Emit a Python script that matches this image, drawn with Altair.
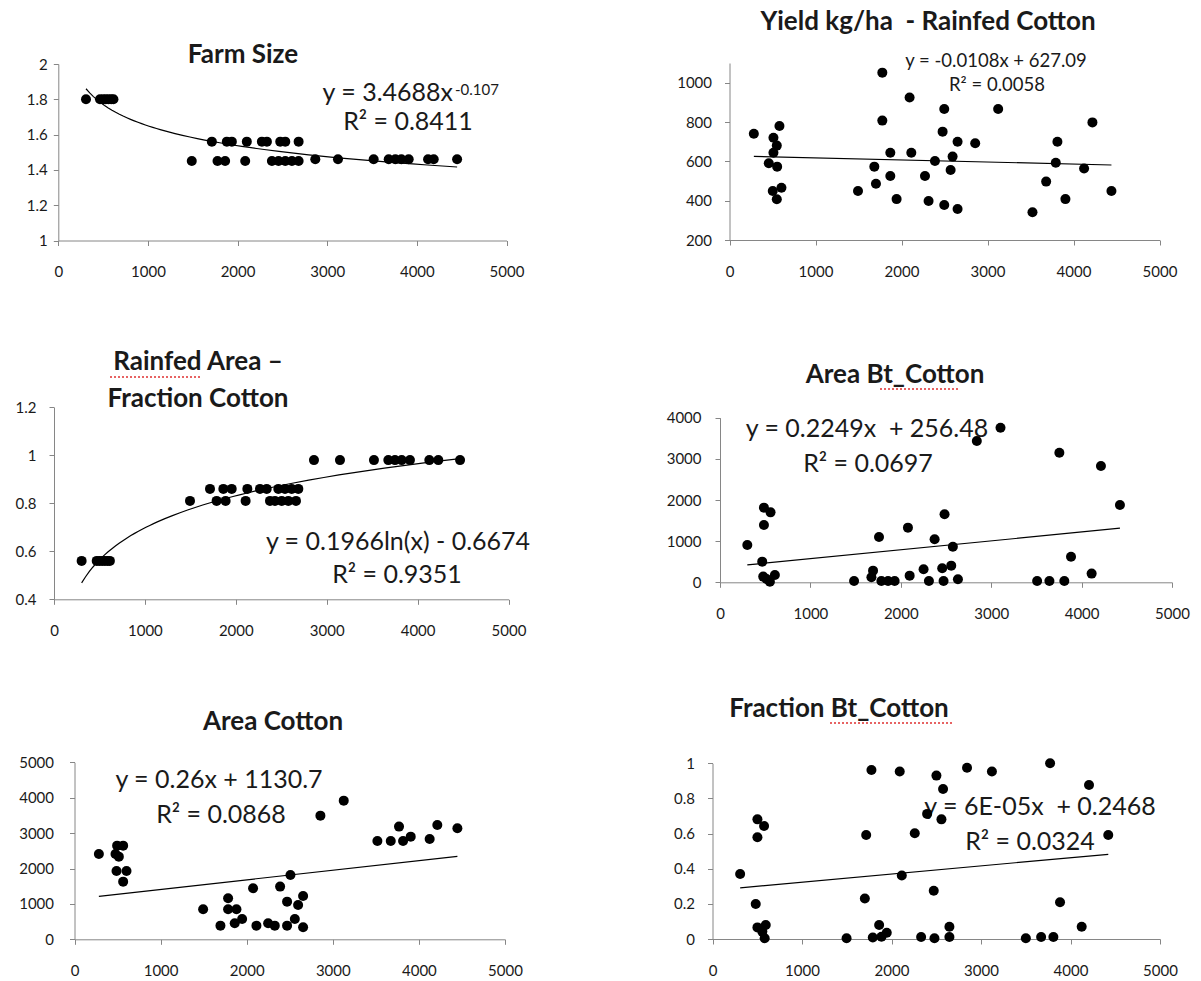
import altair as alt
import pandas as pd

W, H = 1201, 981
FONT = "Lato"
INK = "#1a1a1a"
AXIS_GREY = "#868686"
X_TICKS = [0, 1000, 2000, 3000, 4000, 5000]

# ---------------- data ----------------
# Farm Size
farm_x = [309, 465, 500, 530, 560, 590, 615,
          1713, 1880, 1936, 2103, 2271, 2327, 2476, 2532, 2681,
          1489, 1776, 1861, 2085, 2383, 2457, 2532, 2606, 2681,
          2867, 3120, 3518, 3686, 3760, 3827, 3909, 4125, 4188, 4449]
farm_y = [1.80, 1.80, 1.80, 1.80, 1.80, 1.80, 1.80,
          1.56, 1.56, 1.56, 1.56, 1.56, 1.56, 1.56, 1.56, 1.56,
          1.45, 1.45, 1.45, 1.45, 1.45, 1.45, 1.45, 1.45, 1.45,
          1.46, 1.46, 1.46, 1.46, 1.46, 1.46, 1.46, 1.46, 1.46, 1.46]

# Yield kg/ha - Rainfed Cotton
yield_x = [283, 457, 503, 511, 511, 550, 550, 554, 581, 604, 1494, 1684, 1703, 1777,
           1777, 1870, 1870, 1943, 2094, 2114, 2273, 2315, 2389, 2478, 2497, 2497,
           2571, 2594, 2652, 2652, 2857, 3124, 3523, 3682, 3794, 3813, 3906, 4123,
           4220, 4441]
yield_y = [740, 590, 449, 720, 644, 680, 407, 573, 780, 466, 449, 573, 486, 1051,
           807, 644, 525, 408, 925, 644, 525, 398, 602, 751, 866, 378,
           556, 624, 700, 358, 692, 866, 341, 497, 593, 700, 408, 564,
           798, 449]

# Rainfed Area - Fraction Cotton
rain_x = [304, 470, 500, 530, 560, 590, 615,
          1716, 1863, 1955, 2127, 2266, 2340, 2468, 2541, 2615, 2688,
          1496, 1789, 1888, 2108, 2376, 2431, 2505, 2578, 2662,
          2860, 3146, 3520, 3678, 3751, 3825, 3916, 4129, 4228, 4467]
rain_y = [0.56, 0.56, 0.56, 0.56, 0.56, 0.56, 0.56,
          0.86, 0.86, 0.86, 0.86, 0.86, 0.86, 0.86, 0.86, 0.86, 0.86,
          0.81, 0.81, 0.81, 0.81, 0.81, 0.81, 0.81, 0.81, 0.81,
          0.98, 0.98, 0.98, 0.98, 0.98, 0.98, 0.98, 0.98, 0.98, 0.98]

# Area Bt_Cotton
btarea_x = [302, 467, 486, 486, 559, 478, 515, 552, 607, 1483, 1693, 1675, 1759,
            1785, 1859, 1932, 2079, 2098, 2252, 2311, 2374, 2458, 2473, 2484,
            2558, 2576, 2632, 2841, 3103, 3508, 3644, 3754, 3809, 3883, 4111,
            4214, 4424]
btarea_y = [907, 502, 1393, 1814, 1700, 138, 81, 16, 178, 30, 283, 121, 1101,
            30, 30, 30, 1328, 162, 316, 30, 1045, 340, 30, 1652,
            405, 866, 73, 3433, 3757, 30, 30, 3150, 30, 623, 211,
            2826, 1879]

# Area Cotton
area_x = [283, 476, 495, 565, 515, 488, 604, 565, 1494, 1695, 1784, 1784, 1881,
          1861, 1947, 2074, 2113, 2249, 2326, 2388, 2469, 2469, 2508, 2559, 2597,
          2655, 2655, 2856, 3127, 3518, 3673, 3769, 3816, 3905, 4125, 4214, 4447]
area_y = [2411, 2411, 2646, 2646, 2335, 1930, 1930, 1629, 847, 386, 1158, 847, 847,
          452, 574, 1441, 386, 452, 386, 1488, 386, 1064, 1817, 574, 970,
          1224, 339, 3493, 3917, 2778, 2778, 3183, 2778, 2900, 2834, 3230, 3136]

# Fraction Bt_Cotton
frac_x = [309, 483, 502, 502, 576, 502, 595, 557, 583, 1498, 1717, 1702, 1776,
          1791, 1862, 1888, 1947, 2092, 2115, 2260, 2331, 2398, 2472, 2502, 2480,
          2576, 2558, 2647, 2647, 2844, 3122, 3501, 3672, 3772, 3809, 3883, 4125,
          4207, 4422]
frac_y = [0.370, 0.199, 0.681, 0.579, 0.643, 0.066, 0.080, 0.042, 0.004, 0.004,
          0.592, 0.231, 0.962, 0.009, 0.080, 0.013, 0.036, 0.953, 0.361, 0.602,
          0.011, 0.712, 0.275, 0.930, 0.004, 0.854, 0.681, 0.070, 0.011, 0.975,
          0.953, 0.004, 0.011, 1.000, 0.011, 0.209, 0.070, 0.877, 0.592]


def panel(xs, ys, xr, yr, ydom, yticks, yfmt, method, ypad):
    df = pd.DataFrame({"x": xs, "y": ys})
    xenc = alt.X(
        "x:Q",
        title="",
        scale=alt.Scale(domain=[0, 5000], range=xr, nice=False, zero=False),
        axis=alt.Axis(orient="bottom", offset=yr[0] - H, values=X_TICKS, format="d",
                      grid=False, domainColor=AXIS_GREY, tickColor=AXIS_GREY,
                      tickSize=5, labelFont=FONT, labelFontSize=15, labelColor=INK,
                      labelPadding=19, labelFlush=False, labelOverlap=False),
    )
    yenc = alt.Y(
        "y:Q",
        title="",
        scale=alt.Scale(domain=ydom, range=yr, nice=False, zero=False),
        axis=alt.Axis(orient="left", offset=-xr[0], values=yticks, format=yfmt,
                      grid=False, domainColor=AXIS_GREY, tickColor=AXIS_GREY,
                      tickSize=5, labelFont=FONT, labelFontSize=15, labelColor=INK,
                      labelPadding=ypad, labelFlush=False, labelOverlap=False),
    )
    base = alt.Chart(df)
    pts = base.mark_circle(size=100, color="black", opacity=1).encode(x=xenc, y=yenc)
    line = (base.transform_regression("x", "y", method=method)
            .mark_line(color="black", strokeWidth=1.2).encode(x=xenc, y=yenc))
    return alt.layer(pts, line)


def label(text, x, y, size, bold=False, align="center", baseline="middle"):
    return alt.Chart(pd.DataFrame({"t": [text]})).mark_text(
        font=FONT, fontSize=size, fontWeight="bold" if bold else "normal",
        color=INK, align=align, baseline=baseline,
    ).encode(text="t:N", x=alt.value(x), y=alt.value(y))


def squiggle(x1, x2, y):
    return alt.Chart(pd.DataFrame({"a": [0]})).mark_rule(
        color="#e03030", strokeWidth=1.5, strokeDash=[2, 2]
    ).encode(x=alt.value(x1), x2=alt.value(x2), y=alt.value(y))


TS = 26   # title size
ES = 25   # equation size
NB = "\u00a0"

texts = [
    label("Farm Size", 243, 55, TS, bold=True),
    label("y = 3.4688x", 453, 101, ES, align="right", baseline="alphabetic"),
    label("-0.107", 455, 95, 15, align="left", baseline="alphabetic"),
    label("R\u00b2 = 0.8411", 408, 122, ES),

    label("Yield kg/ha " + NB + "- Rainfed Cotton", 928, 22, TS, bold=True),
    label("y = -0.0108x + 627.09", 996, 61, 18.5),
    label("R\u00b2 = 0.0058", 997, 85, 18.5),

    label("Rainfed Area \u2013", 198, 362, TS, bold=True),
    label("Fraction Cotton", 198, 399, TS, bold=True),
    squiggle(110, 200, 377),
    label("y = 0.1966ln(x) - 0.6674", 398, 542, ES),
    label("R\u00b2 = 0.9351", 397, 575, ES),

    label("Area Bt_Cotton", 895, 375, TS, bold=True),
    squiggle(880, 958, 389),
    label("y = 0.2249x " + NB + "+ 256.48", 867, 429, ES),
    label("R\u00b2 = 0.0697", 868, 464, ES),

    label("Area Cotton", 273, 722, TS, bold=True),
    label("y = 0.26x + 1130.7", 219, 780, ES),
    label("R\u00b2 = 0.0868", 221, 815, ES),

    label("Fraction Bt_Cotton", 839, 709, TS, bold=True),
    squiggle(830, 953, 723),
    label("y = 6E-05x " + NB + "+ 0.2468", 1040, 807, ES),
    label("R\u00b2 = 0.0324", 1030, 842, ES),
]

panels = [
    panel(farm_x, farm_y, [58.3, 506.5], [240.5, 64], [1, 2],
          [1, 1.2, 1.4, 1.6, 1.8, 2], "~g", "pow", 6),
    panel(yield_x, yield_y, [729.5, 1159.5], [240, 63], [200, 1100],
          [200, 400, 600, 800, 1000], "d", "linear", 13),
    panel(rain_x, rain_y, [54, 508.5], [599.3, 407.3], [0.4, 1.2],
          [0.4, 0.6, 0.8, 1, 1.2], "~g", "log", 13),
    panel(btarea_x, btarea_y, [720, 1172], [582.3, 417.7], [0, 4000],
          [0, 1000, 2000, 3000, 4000], "d", "linear", 14),
    panel(area_x, area_y, [74.5, 505], [939.3, 762.3], [0, 5000],
          [0, 1000, 2000, 3000, 4000, 5000], "d", "linear", 16),
    panel(frac_x, frac_y, [712.5, 1160], [939, 763.3], [0, 1],
          [0, 0.2, 0.4, 0.6, 0.8, 1], "~g", "linear", 13),
]

chart = (
    alt.layer(*texts, *panels)
    .resolve_scale(x="independent", y="independent")
    .resolve_axis(x="independent", y="independent")
    .properties(width=W, height=H, padding=0, background="white",
                autosize=alt.AutoSizeParams(type="none"))
    .configure_view(strokeWidth=0)
)

chart.save("out.html", embed_options={"renderer": "svg", "actions": False})
